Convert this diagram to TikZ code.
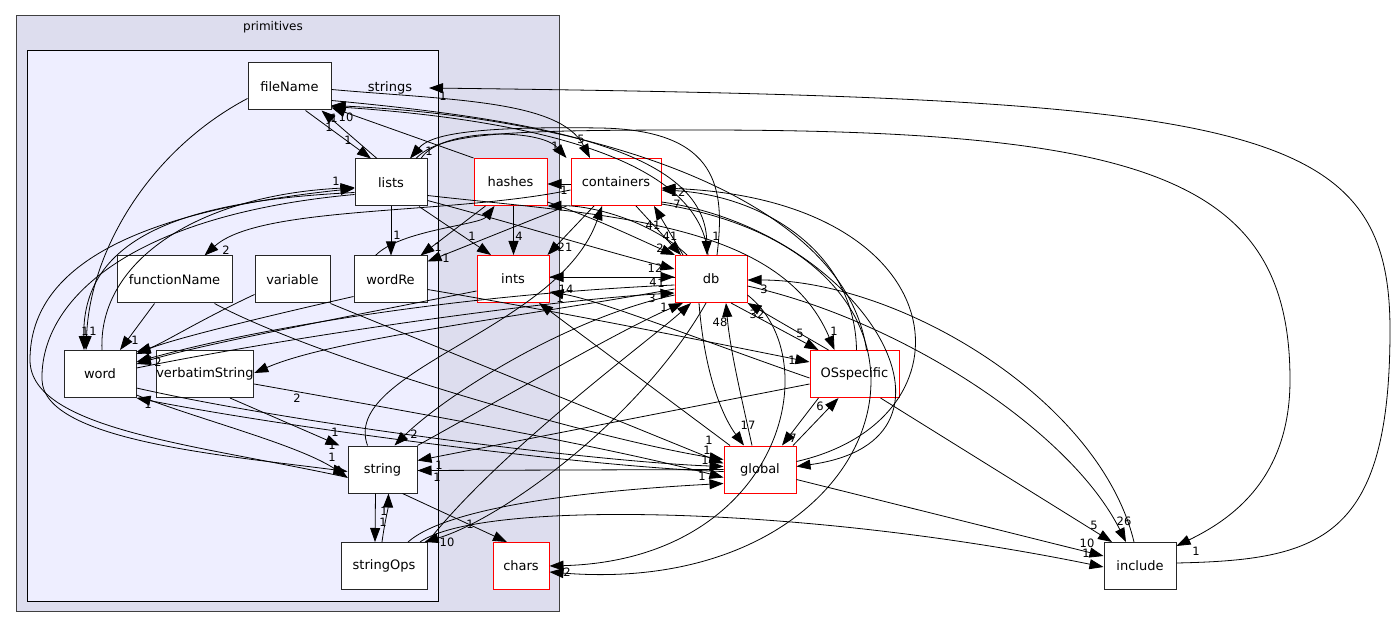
\documentclass[tikz,border=0pt]{standalone}
\usepackage{fontspec}
\setmainfont{DejaVu Sans}
\usetikzlibrary{arrows.meta}
\definecolor{outerfill}{HTML}{DDDDEE}
\definecolor{innerfill}{HTML}{EEEEFF}
\definecolor{clusterline}{HTML}{404040}
\begin{document}
\begin{tikzpicture}[x=1pt,y=-1pt,
  box/.style={draw=black!85, fill=white, minimum height=47pt, inner sep=0pt, line width=1pt, font=\fontsize{13}{15}\selectfont},
  rbox/.style={box, draw=red},
  e/.style={-{Triangle[length=14pt,width=10pt]}, line width=0.8pt, black},
  lb/.style={font=\fontsize{11.5}{13}\selectfont, inner sep=0pt},
  clab/.style={font=\fontsize{12}{14}\selectfont, inner sep=0pt}]
\useasboundingbox (0,0) rectangle (1400,628);
\fill[white] (0,0) rectangle (1400,628);
% clusters
\draw[clusterline, fill=outerfill, line width=1pt] (16,16) rectangle (559,611);
\node[clab] (cprim) at (273,27) {primitives};
\draw[black, fill=innerfill, line width=1pt] (27,51) rectangle (438,601);
\node[clab, font=\fontsize{13}{15}\selectfont] (strings) at (390,88) {strings};
\coordinate (stringsIn) at (429,88);
% nodes
\node[box, minimum width=83pt] (fileName) at (289.5,86.5) {fileName};
\node[box, minimum width=72pt] (lists) at (391,182.5) {lists};
\node[box, minimum width=115pt] (functionName) at (174.5,279.5) {functionName};
\node[box, minimum width=75pt] (variable) at (292.5,279.5) {variable};
\node[box, minimum width=73pt] (wordRe) at (390.5,279.5) {wordRe};
\node[box, minimum width=72pt] (word) at (100,374) {word};
\node[box, minimum width=90pt] (verbatimString) at (205,374) {verbatimString};
\node[box, minimum width=69pt] (string) at (382.5,469.5) {string};
\node[box, minimum width=86pt] (stringOps) at (384,566) {stringOps};
\node[rbox, minimum width=73pt] (hashes) at (510.5,182) {hashes};
\node[rbox, minimum width=90pt] (containers) at (616,182) {containers};
\node[rbox, minimum width=72pt] (ints) at (513,279) {ints};
\node[rbox, minimum width=72pt] (db) at (711,279) {db};
\node[rbox, minimum width=89pt] (OSspecific) at (854.5,374) {OSspecific};
\node[rbox, minimum width=72pt] (global) at (760,469.5) {global};
\node[rbox, minimum width=56pt] (chars) at (521,566) {chars};
\node[box, minimum width=72pt] (include) at (1140,566) {include};
% ---------------- edges
% fileName <-> lists
\draw[e] ([xshift=16pt]fileName.south) -- ([xshift=-20pt]lists.north);
\node[lb] (l1) at (348,140) {1};
\draw[e] ([xshift=-14pt]lists.north) -- ([xshift=32pt]fileName.south);
\node[lb] (l2) at (329,127) {1};
% fileName -> word
\draw[e] ([yshift=-12pt]fileName.west) .. controls (150,150) and (90,250) .. ([xshift=-14pt]word.north);
\node[lb] (l3) at (85,331) {1};
% lists -> word
\draw[e] ([yshift=-10pt]lists.west) .. controls (200,200) and (82,230) .. ([xshift=-16pt]word.north);
\node[lb] (l4) at (93,331) {1};
% word -> lists
\draw[e] ([xshift=2pt]word.north) .. controls (98,260) and (200,195) .. ([yshift=-5pt]lists.west);
\node[lb] (l5) at (336,181) {1};
% lists -> string (left arc)
\draw[e] ([yshift=-12pt]lists.west) .. controls (130,215) and (40,300) .. (42,380) .. controls (44,440) and (220,455) .. ([yshift=-2pt]string.west);
\node[lb] (l6) at (332,457) {1};
% string -> lists
\draw[e] ([yshift=-8pt]string.west) .. controls (200,445) and (30,430) .. (30,360) .. controls (30,260) and (150,210) .. ([yshift=-6pt]lists.west);
% functionName -> word
\draw[e] ([xshift=-20pt]functionName.south) -- ([xshift=20pt]word.north);
\node[lb] (l7) at (135,340) {1};
% functionName -> global
\draw[e] ([xshift=40pt]functionName.south) .. controls (320,360) and (600,440) .. ([yshift=10pt]global.west);
\node[lb] (l8) at (709,440) {1};
% variable -> word
\draw[e] ([yshift=-15pt]variable.west) .. controls (200,320) and (160,345) .. ([yshift=-2pt]word.north east);
% variable -> global
\draw[e] (variable.south east) -- ([yshift=6pt]global.west);
\node[lb] (l9) at (707,450) {1};
% wordRe -> word
\draw[e] ([yshift=-17pt]wordRe.west) .. controls (250,320) and (170,340) .. ([yshift=-4pt]word.north east);
\node[lb] (l10) at (148,350) {1};
% db -> word
\draw[e] ([yshift=-6pt]db.west) .. controls (450,295) and (250,330) .. ([yshift=12pt]word.east);
\node[lb] (l11) at (158,362) {2};
% ints -> word
\draw[e] ([yshift=-12pt]ints.west) .. controls (330,320) and (200,345) .. ([yshift=10pt]word.east);
\node[lb] (l12) at (149,360) {2};
% word -> db
\draw[e] ([yshift=6pt]word.east) .. controls (300,335) and (550,300) .. ([yshift=-14pt]db.west);
\node[lb] (l13) at (652,298) {3};
% word <-> global
\draw[e] ([yshift=-14pt]word.east) .. controls (300,425) and (600,462) .. ([yshift=3pt]global.west);
\node[lb] (l14) at (705,460) {1};
\draw[e] ([yshift=-2pt]global.west) .. controls (600,468) and (300,430) .. (word.south east);
\node[lb] (l15) at (148,404) {1};
% word -> string
\draw[e] ([yshift=3pt]word.south east) .. controls (200,420) and (300,445) .. ([yshift=-8pt]string.west);
\node[lb] (l16) at (332,445) {1};
% verbatimString -> string
\draw[e] ([xshift=25pt]verbatimString.south) -- ([xshift=-8pt]string.north west);
\node[lb] (l17) at (335,432) {1};
% verbatimString -> global
\draw[e] ([yshift=-10pt]verbatimString.east) .. controls (400,410) and (600,445) .. ([yshift=-8pt]global.west);
\node[lb] (l18) at (702,476) {1};
% db -> verbatimString
\draw[e] ([yshift=-10pt]db.west) .. controls (500,320) and (330,340) .. ([yshift=1pt]verbatimString.east);
\node[lb] (l19) at (297,398) {2};
% string <-> stringOps
\draw[e] ([xshift=-7pt]string.south) -- ([xshift=-9pt]stringOps.north);
\node[lb] (l20) at (383,522) {1};
\draw[e] ([xshift=-2pt]stringOps.north) .. controls (385,520) and (388,510) .. ([xshift=6pt]string.south);
\node[lb] (l21) at (384,511) {1};
% string -> chars
\draw[e] ([xshift=20pt]string.south) -- ([xshift=-14pt]chars.north);
\node[lb] (l22) at (470,524) {1};
% string -> db
\draw[e] (string.north east) .. controls (500,400) and (620,330) .. ([xshift=-28pt]db.south);
\node[lb] (l23) at (664,307) {1};
% db -> string
\draw[e] ([yshift=-16pt]db.west) .. controls (560,320) and (440,400) .. ([xshift=12pt]string.north);
\node[lb] (l24) at (414,434) {2};
% string -> containers
\draw[e] ([xshift=-15pt]string.north) .. controls (340,370) and (560,330) .. ([xshift=-14pt]containers.south);
% global -> string
\draw[e] (global.west) -- ([yshift=-1pt]string.east);
\node[lb] (l25) at (437,477) {1};
% OSspecific -> string
\draw[e] ([yshift=-10pt]OSspecific.west) -- ([yshift=9pt]string.east);
\node[lb] (l26) at (439,465) {1};
% stringOps <-> db
\draw[e] (stringOps.north east) .. controls (500,450) and (650,340) .. ([xshift=-20pt]db.south);
\draw[e] ([xshift=-5pt]db.south) .. controls (640,420) and (500,520) .. ([xshift=-3pt]stringOps.north east);
\node[lb] (l27) at (447,542) {10};
% stringOps -> global
\draw[e] ([xshift=24pt]stringOps.north) .. controls (450,505) and (600,490) .. ([yshift=-14pt]global.west);
% stringOps -> include
\draw[e] ([xshift=36pt]stringOps.north) .. controls (480,500) and (800,505) .. ([yshift=-1pt]include.west);
\node[lb] (l28) at (1086,553) {1};
% containers <-> hashes
\draw[e] ([yshift=-2pt]containers.west) -- ([yshift=-2pt]hashes.east);
\node[lb] (l29) at (564,190) {1};
% hashes -> ints
\draw[e] ([xshift=3pt]hashes.south) -- ([xshift=0.5pt]ints.north);
\node[lb] (l30) at (519,236) {4};
% containers -> ints
\draw[e] ([xshift=-22pt]containers.south) -- ([xshift=-2pt]ints.north east);
\node[lb] (l31) at (565,247) {21};
% containers <-> db
\draw[e] ([xshift=20pt]containers.south) -- ([xshift=-30pt]db.north);
\node[lb] (l32) at (670,236) {41};
\draw[e] ([xshift=-28pt]db.north) -- ([xshift=38pt]containers.south);
\node[lb] (l33) at (653,225) {41};
% hashes -> db
\draw[e] ([yshift=4pt]hashes.south east) .. controls (600,220) and (640,240) .. ([xshift=-36pt]db.north);
\node[lb] (l34) at (660,248) {2};
% db -> hashes
\draw[e] ([xshift=-24pt]db.north) .. controls (650,220) and (590,205) .. (hashes.south east);
% lists -> db
\draw[e] ([yshift=-18pt]lists.east) .. controls (520,225) and (600,250) .. ([yshift=10pt]db.west);
\node[lb] (l35) at (655,268) {12};
% ints <-> db
\draw[e] ([yshift=2pt]db.west) -- ([yshift=2pt]ints.east);
\node[lb] (l36) at (566,289) {14};
\draw[e] ([yshift=2pt]ints.east) -- ([yshift=2pt]db.west);
\node[lb] (l37) at (653,282) {4};
\node[lb] (l38) at (661,283) {1};
% db <-> OSspecific
\draw[e] ([xshift=20pt]db.south) -- ([xshift=-36pt]OSspecific.north);
\node[lb] (l39) at (800,333) {5};
\draw[e] ([xshift=-26pt]OSspecific.north) -- (db.south east);
\node[lb] (l40) at (757,314) {32};
% lists -> OSspecific
\draw[e] ([yshift=-13pt]lists.east) .. controls (600,215) and (780,220) .. ([xshift=-20pt]OSspecific.north);
\node[lb] (l41) at (834,331) {1};
% db <-> global
\draw[e] ([xshift=-12pt]db.south) .. controls (705,380) and (725,420) .. ([xshift=-16pt]global.north);
\node[lb] (l42) at (748,425) {17};
\draw[e] ([xshift=-8pt]global.north) .. controls (742,400) and (730,350) .. ([xshift=15pt]db.south);
\node[lb] (l43) at (720,322) {48};
% global <-> OSspecific
\draw[e] ([xshift=33pt]global.north) -- ([xshift=-16pt]OSspecific.south);
\node[lb] (l44) at (820,406) {6};
\draw[e] ([xshift=-36pt]OSspecific.south) -- ([xshift=22pt]global.north);
\node[lb] (l45) at (793,438) {7};
% OSspecific -> containers
\draw[e] ([xshift=2pt]OSspecific.north) .. controls (855,250) and (760,195) .. ([yshift=-8pt]containers.east);
\node[lb] (l46) at (678,192) {12};
% global -> containers
\draw[e] ([yshift=8pt]global.east) .. controls (980,420) and (960,200) .. ([yshift=-6pt]containers.east);
\node[lb] (l47) at (677,204) {7};
% containers -> global (arc back)
\draw[e] ([yshift=-20pt]containers.east) .. controls (860,230) and (990,440) .. ([yshift=3pt]global.east);
% OSspecific -> include
\draw[e] ([xshift=26pt]OSspecific.south) -- ([xshift=-28pt]include.north);
\node[lb] (l48) at (1094,525) {5};
% global -> include
\draw[e] ([yshift=-10pt]global.east) -- ([yshift=10pt]include.west);
\node[lb] (l49) at (1087,543) {10};
% db <-> include
\draw[e] ([yshift=-7pt]db.east) .. controls (900,320) and (1070,430) .. ([xshift=-14pt]include.north);
\node[lb] (l50) at (1124,521) {26};
\draw[e] ([xshift=-6pt]include.north) .. controls (1100,400) and (900,280) .. ([yshift=-1pt]db.east);
\node[lb] (l51) at (764,289) {3};
% db -> chars
\draw[e] ([yshift=-16pt]db.east) .. controls (830,360) and (780,560) .. (chars.east);
\node[lb] (l52) at (567,572) {2};
% containers -> chars
\draw[e] ([yshift=-22pt]containers.east) .. controls (1000,260) and (900,600) .. ([yshift=-6pt]chars.east);
% global -> ints
\draw[e] ([xshift=-30pt]global.north) -- ([xshift=26pt]ints.south);
\node[lb] (l53) at (560,298) {1};
% OSspecific -> ints
\draw[e] ([yshift=-4pt]OSspecific.west) .. controls (700,340) and (600,300) .. ([yshift=-13pt]ints.east);
% wordRe -> OSspecific
\draw[e] ([yshift=-10pt]wordRe.east) .. controls (550,310) and (700,340) .. ([yshift=12pt]OSspecific.west);
\node[lb] (l54) at (792,360) {1};
% hashes / containers -> wordRe
\draw[e] ([xshift=-25pt]hashes.south) -- ([xshift=30pt]wordRe.north);
\node[lb] (l55) at (438,247) {1};
\draw[e] ([xshift=-4pt]containers.south west) -- ([yshift=-6pt]wordRe.north east);
\node[lb] (l56) at (446,258) {1};
% wordRe -> hashes
\draw[e] ([xshift=-15pt]wordRe.north) .. controls (400,230) and (480,225) .. ([xshift=-16pt]hashes.south);
% containers -> functionName
\draw[e] ([yshift=-8pt]containers.west) .. controls (450,215) and (260,205) .. ([xshift=30pt]functionName.north);
\node[lb] (l57) at (226,250) {2};
% lists -> ints
\draw[e] ([xshift=28pt]lists.south) -- ([xshift=-22pt]ints.north);
\node[lb] (l58) at (472,236) {1};
% lists -> wordRe
\draw[e] (lists.south) -- ([xshift=0.5pt]wordRe.north);
\node[lb] (l59) at (397,235) {1};
% lists -> containers
\draw[e] ([xshift=30pt]lists.north) .. controls (440,128) and (540,128) .. ([xshift=-4pt]containers.north west);
\node[lb] (l60) at (555,146) {1};
% fileName -> containers
\draw[e] ([yshift=-3pt]fileName.east) .. controls (450,100) and (560,100) .. ([xshift=-26pt]containers.north);
\node[lb] (l61) at (581,139) {5};
% hashes -> fileName
\draw[e] (hashes.north west) -- ([yshift=-21pt]fileName.east);
% db -> fileName
\draw[e] ([xshift=-3pt]db.north) .. controls (700,150) and (500,118) .. ([yshift=-20pt]fileName.east);
\node[lb] (l62) at (346,117) {10};
% OSspecific -> fileName
\draw[e] ([xshift=12pt]OSspecific.north) .. controls (845,200) and (600,118) .. ([yshift=-19pt]fileName.east);
\node[lb] (l63) at (334,118) {1};
% fileName -> db
\draw[e] ([yshift=-14pt]fileName.east) .. controls (540,120) and (705,150) .. ([xshift=-4pt]db.north);
\node[lb] (l64) at (716,236) {1};
% db -> lists
\draw[e] ([xshift=6pt]db.north) .. controls (725,190) and (720,130) .. (600,128) .. controls (470,126) and (430,135) .. ([xshift=19pt]lists.north);
\node[lb] (l65) at (429,151) {1};
% lists -> include
\draw[e] ([xshift=25pt]lists.north) .. controls (440,133) and (500,130) .. (700,130) .. controls (1150,130) and (1290,180) .. (1290,380) .. controls (1290,480) and (1230,520) .. ([yshift=-4pt]include.north east);
\node[lb] (l66) at (1196,551) {1};
% include -> strings
\draw[e] ([yshift=3pt]include.east) .. controls (1320,560) and (1390,540) .. (1390,330) .. controls (1390,120) and (1250,98) .. (stringsIn);
\node[lb] (l67) at (443,96) {1};
\end{tikzpicture}
\end{document}
